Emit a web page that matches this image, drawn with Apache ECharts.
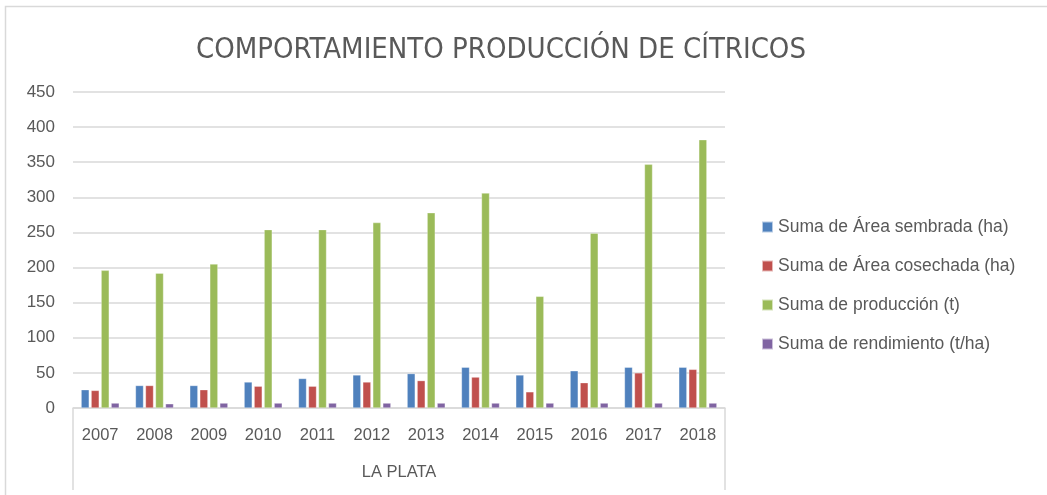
<!DOCTYPE html>
<html>
<head>
<meta charset="utf-8">
<script src="https://cdn.jsdelivr.net/npm/echarts@6/dist/echarts.min.js"></script>
<style>
  html, body { margin: 0; padding: 0; background: #fff; }
  #main { width: 1047px; height: 495px; }
</style>
</head>
<body>
<div id="main"></div>
<script>
// datos
var years = ['2007', '2008', '2009', '2010', '2011', '2012', '2013', '2014', '2015', '2016', '2017', '2018'];
var groupName = ['LA PLATA'];
var areaSembrada = [26, 32, 32, 37, 42, 47, 49, 58, 47, 53, 58, 58];
var areaCosechada = [25, 32, 26, 31, 31, 37, 39, 44, 23, 36, 50, 55];
var produccion = [196, 192, 205, 254, 254, 264, 278, 306, 159, 249, 347, 382];
var rendimiento = [7, 6, 7, 7, 7, 7, 7, 7, 7, 7, 7, 7];
var seriesNames = ['Suma de Área sembrada (ha)', 'Suma de Área cosechada (ha)', 'Suma de producción (t)', 'Suma de rendimiento (t/ha)'];
var colors = ['#4f81bd', '#c0504d', '#9bbb59', '#8064a2'];

var font = 'Liberation Sans, Arial, sans-serif';
var chart = echarts.init(document.getElementById('main'));

function bar(name, data) {
  return {
    name: name,
    type: 'bar',
    data: data,
    barGap: '25%',
    barCategoryGap: '30%',
    itemStyle: { borderColor: 'rgba(255,255,255,0.6)', borderWidth: 0.5 }
  };
}

var option = {
  animation: false,
  color: colors,
  textStyle: { fontFamily: font },
  title: {
    text: 'COMPORTAMIENTO PRODUCCIÓN DE CÍTRICOS',
    left: 496,
    textAlign: 'center',
    top: 31,
    textStyle: { fontFamily: 'Liberation Sans Narrow, DejaVu Sans Condensed, sans-serif', fontSize: 29, fontWeight: 'normal', color: '#595959' }
  },
  legend: {
    orient: 'vertical',
    left: 761,
    top: 218,
    padding: 0,
    itemWidth: 11,
    itemHeight: 11,
    itemGap: 21,
    icon: 'rect',
    textStyle: { fontSize: 17.5, color: '#595959', fontFamily: font },
    data: seriesNames
  },
  grid: { left: 73, right: 322, top: 92, bottom: 87 },
  xAxis: [
    {
      type: 'category',
      data: years,
      position: 'bottom',
      axisLine: { lineStyle: { color: '#d9d9d9', width: 1.5 } },
      axisTick: { show: false },
      axisLabel: { margin: 19, fontSize: 16.5, color: '#595959', fontFamily: font }
    },
    {
      type: 'category',
      data: groupName,
      position: 'bottom',
      axisLine: { show: false },
      axisTick: { show: true, length: 82, lineStyle: { color: '#d9d9d9', width: 1.5 } },
      axisLabel: { margin: 56, fontSize: 16.5, color: '#595959', fontFamily: font }
    }
  ],
  yAxis: {
    type: 'value',
    min: 0,
    max: 450,
    interval: 50,
    axisLine: { show: false },
    axisTick: { show: false },
    axisLabel: { margin: 18, fontSize: 17, color: '#595959', fontFamily: font },
    splitLine: { lineStyle: { color: '#d9d9d9', width: 1.5 } }
  },
  graphic: [
    {
      type: 'rect',
      silent: true,
      shape: { x: 5.5, y: 6.5, width: 1200, height: 700 },
      style: { fill: 'none', stroke: '#d9d9d9', lineWidth: 1.5 }
    }
  ],
  series: [
    bar(seriesNames[0], areaSembrada),
    bar(seriesNames[1], areaCosechada),
    bar(seriesNames[2], produccion),
    bar(seriesNames[3], rendimiento)
  ]
};

chart.setOption(option);
</script>
</body>
</html>
